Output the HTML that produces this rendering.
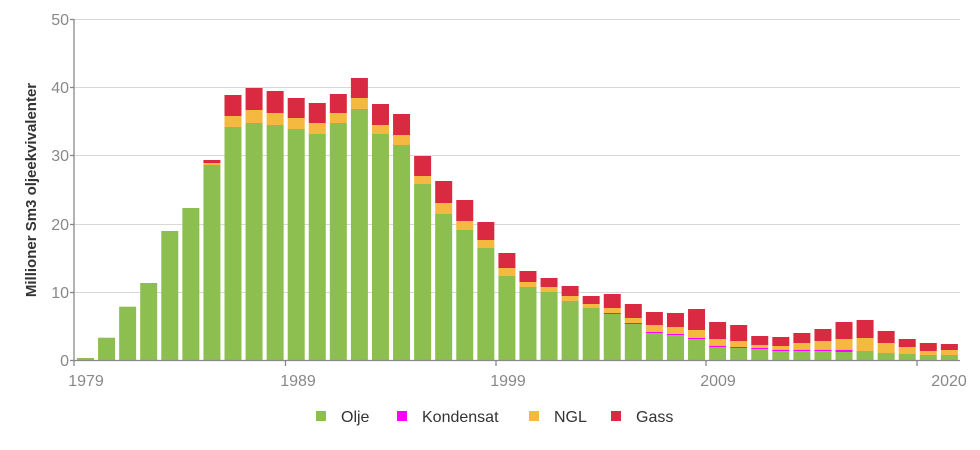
<!DOCTYPE html>
<html><head><meta charset="utf-8"><style>
body{margin:0;background:#fff;}
svg{display:block;font-family:"Liberation Sans",sans-serif;}
</style></head><body>
<svg id="c" width="980" height="450" viewBox="0 0 980 450">
<g stroke="#d8d8d8" stroke-width="1">
<line x1="74" x2="960" y1="19.5" y2="19.5"/>
<line x1="74" x2="960" y1="87.5" y2="87.5"/>
<line x1="74" x2="960" y1="155.5" y2="155.5"/>
<line x1="74" x2="960" y1="224.5" y2="224.5"/>
<line x1="74" x2="960" y1="292.5" y2="292.5"/>
</g>
<g id="bars"></g>
<g stroke="#888" stroke-width="1.3">
<line x1="74" x2="74" y1="19" y2="361"/>
<line x1="74" x2="960" y1="360.5" y2="360.5"/>
<line x1="70" x2="74" y1="19.5" y2="19.5"/>
<line x1="70" x2="74" y1="87.5" y2="87.5"/>
<line x1="70" x2="74" y1="155.5" y2="155.5"/>
<line x1="70" x2="74" y1="224.5" y2="224.5"/>
<line x1="70" x2="74" y1="292.5" y2="292.5"/>
<line x1="70" x2="74" y1="360.5" y2="360.5"/>
<line x1="74" x2="74" y1="360" y2="366"/>
<line x1="285.5" x2="285.5" y1="360" y2="366"/>
<line x1="706" x2="706" y1="360" y2="366"/>
<line x1="917" x2="917" y1="360" y2="366"/>
<line x1="496" x2="496" y1="360" y2="366"/>
</g>
<g fill="#888" font-size="16" text-anchor="end">
<text x="69" y="25">50</text>
<text x="69" y="93">40</text>
<text x="69" y="161">30</text>
<text x="69" y="230">20</text>
<text x="69" y="298">10</text>
<text x="69" y="366">0</text>
</g>
<g fill="#888" font-size="16" text-anchor="middle">
<text x="86" y="386">1979</text>
<text x="298" y="386">1989</text>
<text x="508" y="386">1999</text>
<text x="718" y="386">2009</text>
<text x="949" y="386">2020</text>
</g>
<text transform="translate(36,190) rotate(-90)" text-anchor="middle" font-size="15" font-weight="bold" fill="#333">Millioner Sm3 oljeekvivalenter</text>
<g font-size="16" fill="#333">
<rect x="316" y="411" width="10" height="10" fill="#8cbf50"/><text x="341" y="422">Olje</text>
<rect x="397" y="411" width="10" height="10" fill="#ff00ff"/><text x="422" y="422">Kondensat</text>
<rect x="529" y="411" width="10" height="10" fill="#f5b942"/><text x="554" y="422">NGL</text>
<rect x="611" y="411" width="10" height="10" fill="#da2a42"/><text x="636" y="422">Gass</text>
</g>
</svg>
<script>
// [green top, kond top, orange top, red top] in px
var d=[
[358,358,358,358],[337.7,0,0,0],[306.7,0,0,0],[283,0,0,0],[231,0,0,0],[208,0,0,0],
[165,165,163,160],[127,127,116,95],[123,123,110,88],[125,125,113,91],[129,129,118,98],
[134,134,123,103],[123,123,113,94],[109,109,98,78],[134,134,125,104],[145,145,135,114],
[184,184,176,156],[214,214,203,181],[230,230,221,200],[248,248,240,222],[276,276,268,253],
[287,287,282,271],[292,292,287,278],[301,301,296,286],[308,308,304,296],[314,313,308,294],
[324,323,318,304],[333,332,325,312],[335,334,327,313],[339,338,330,309],[347,345.7,339,322],
[348,347,341,325],[349,348,345,336],[351,349.7,346,337],[351,349.7,343,333],[351,349.7,341,329],
[352,349.7,339,322],[351,351,338,320],[353,353,343,331],[354,354,347,339],[355,355,351,343],[355,355,350,344]
];
var cols=["#8cbf50","#ff00ff","#f5b942","#da2a42"],g=document.getElementById("bars"),s="";
d.forEach(function(b,i){
 var x=77+i*21.07,prev=360;
 for(var k=0;k<4;k++){var t=b[k]||prev; if(t<prev){s+='<rect x="'+x.toFixed(2)+'" y="'+t+'" width="17" height="'+(prev-t).toFixed(2)+'" fill="'+cols[k]+'"/>';prev=t;}}
});
g.innerHTML=s;
</script>
</body></html>
